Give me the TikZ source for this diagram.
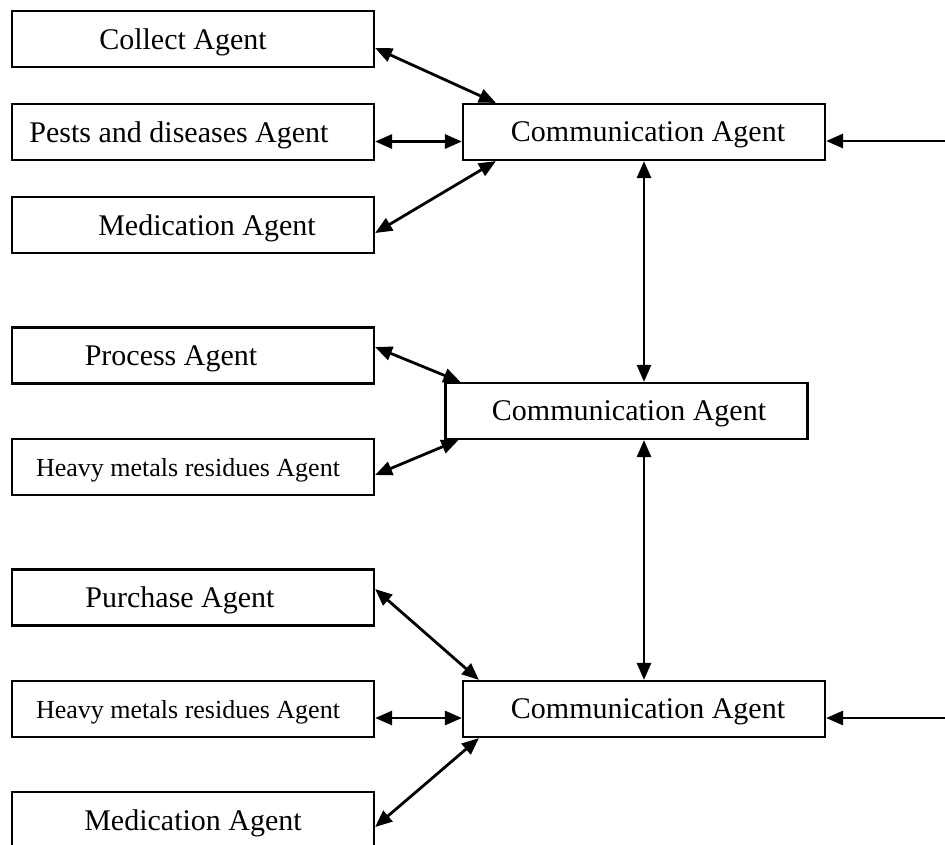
\documentclass[tikz,border=0pt]{standalone}
\usepackage{fontspec}
\setmainfont{Liberation Serif}
\usetikzlibrary{arrows.meta,calc}
\tikzset{
  box/.style={draw=black, line width=2.2pt, minimum width=362pt, minimum height=56pt, inner sep=0pt},
  tx/.style={font=\fontsize{30}{34}\selectfont, inner sep=0pt, yshift=-3pt},
  txs/.style={font=\fontsize{26}{30}\selectfont, inner sep=0pt, yshift=-3pt},
  conn/.style={line width=2.8pt, {Triangle[length=17pt,width=14pt]}-{Triangle[length=17pt,width=14pt]}},
  conn1/.style={line width=2.8pt, -{Triangle[length=17pt,width=14pt]}}
}
\begin{document}
\begin{tikzpicture}[x=1pt,y=-1pt]
\useasboundingbox (0,0) rectangle (945,844);
\clip (0,0) rectangle (945,844);
% left boxes
\node[box, label={[tx,xshift=-10pt]center:Collect Agent}] (collect) at (193,39) {};
\node[box, label={[tx,xshift=-14pt]center:Pests and diseases Agent}] (pests) at (193,132) {};
\node[box, label={[tx,xshift=14pt]center:Medication Agent}] (meda) at (193,225) {};
\node[box, label={[tx,xshift=-22pt]center:Process Agent}] (process) at (193,355.5) {};
\node[box, label={[txs,xshift=-5pt]center:Heavy metals residues Agent}] (heavya) at (193,467) {};
\node[box, label={[tx,xshift=-13pt]center:Purchase Agent}] (purchase) at (193,597.5) {};
\node[box, label={[txs,xshift=-5pt]center:Heavy metals residues Agent}] (heavyb) at (193,709) {};
\node[box, label={[tx]center:Medication Agent}] (medb) at (193,820) {};
% communication boxes
\node[box, label={[tx,xshift=4pt]center:Communication Agent}] (ctop) at (644,132) {};
\node[box, label={[tx,xshift=2.5pt]center:Communication Agent}] (cmid) at (626.5,411) {};
\node[box, label={[tx,xshift=4pt]center:Communication Agent}] (cbot) at (644,709) {};
% free ends
\coordinate (rtop) at (945,141);
\coordinate (rbot) at (945,718);
% top group
\draw[conn] ($(collect.east)+(0,9)$) -- ($(ctop.north west)+(34,0)$);
\draw[conn] ($(pests.east)+(0,9.5)$) -- ($(ctop.west)+(0,9.5)$);
\draw[conn] ($(meda.east)+(0,8)$) -- ($(ctop.south west)+(34,0)$);
\draw[conn1] (rtop) -- ($(ctop.east)+(0,9)$);
% middle group
\draw[conn] ($(process.east)+(0,-8.5)$) -- ($(cmid.north west)+(16,0)$);
\draw[conn] ($(heavya.east)+(0,8)$) -- ($(cmid.south west)+(14,0)$);
% bottom group
\draw[conn] ($(purchase.east)+(0,-8.5)$) -- ($(cbot.north west)+(17,0)$);
\draw[conn] ($(heavyb.east)+(0,9)$) -- ($(cbot.west)+(0,9)$);
\draw[conn] ($(medb.east)+(0,7)$) -- ($(cbot.south west)+(17,0)$);
\draw[conn1] (rbot) -- ($(cbot.east)+(0,9)$);
% vertical links
\draw[conn] (ctop.south) -- (ctop.south |- cmid.north);
\draw[conn] (cbot.north |- cmid.south) -- (cbot.north);
\end{tikzpicture}
\end{document}
